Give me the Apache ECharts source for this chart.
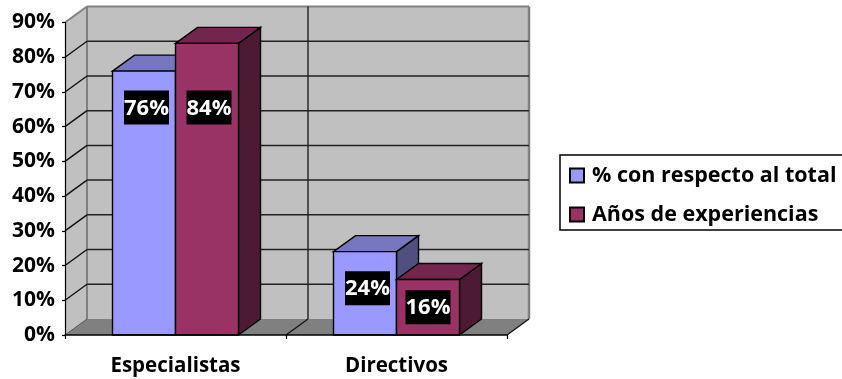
<!DOCTYPE html>
<html><head><meta charset="utf-8">
<style>html,body{margin:0;padding:0;background:#fff;overflow:hidden}#c{width:842px;height:379px}</style>
<script src="https://cdn.jsdelivr.net/npm/echarts@6/dist/echarts.min.js"></script>
</head><body><div id="c"></div>
<script>
const categories = ['Especialistas', 'Directivos'];
const yTicks = [0, 10, 20, 30, 40, 50, 60, 70, 80, 90];
const seriesNames = ['% con respecto al total', 'Años de experiencias'];
const pctTotal = [76, 24];
const yearsExp = [84, 16];

const FONT = '"Open Sans", Lato, sans-serif';
const DX = 22, DY = -16;
const BAR_FRAC = 63 / 221;

function poly(points, fill, stroke, lw) {
  return { type: 'polygon', shape: { points }, style: { fill, stroke: stroke || 'none', lineWidth: lw || 0 } };
}
function line(x1, y1, x2, y2, stroke, lw) {
  return { type: 'line', shape: { x1, y1, x2, y2 }, style: { stroke, lineWidth: lw } };
}

function renderWalls(params, api) {
  const cs = params.coordSys;
  const l = cs.x, r = cs.x + cs.width, t = cs.y, b = cs.y + cs.height;
  const v = api.value(0);
  const y = api.coord([0, v])[1];
  const kids = [];
  if (params.dataIndex === 0) {
    const mid = l + cs.width / 2;
    kids.push(poly([[l, b], [l + DX, b + DY], [l + DX, t + DY], [l, t]], '#c0c0c0'));
    kids.push(poly([[l + DX, b + DY], [r + DX, b + DY], [r + DX, t + DY], [l + DX, t + DY]], '#c0c0c0'));
    kids.push(poly([[l, b], [r, b], [r + DX, b + DY], [l + DX, b + DY]], '#808080'));
    kids.push(line(l, t, l + DX, t + DY, '#808080', 2));
    kids.push(line(l + DX, t + DY, r + DX, t + DY, '#808080', 2));
    kids.push(line(l + DX, b + DY, l + DX, t + DY, '#808080', 2));
    kids.push(line(r + DX, b + DY, r + DX, t + DY, '#808080', 2.5));
    kids.push(line(mid + DX, b + DY, mid + DX, t + DY, '#222', 1.4));
    kids.push(line(mid, b, mid + DX, b + DY, '#111', 1.3));
    kids.push(line(r, b, r + DX, b + DY, '#111', 1.3));
    kids.push(line(l, b, l + DX, b + DY, '#555', 1));
  } else if (v < 90) {
    kids.push(line(l, y, l + DX, y + DY, '#111', 1.4));
    kids.push(line(l + DX, y + DY, r + DX, y + DY, '#222', 1.5));
  }
  return { type: 'group', children: kids };
}

function barRenderer(side, colors, labelAt, labelShift) {
  return function (params, api) {
    const i = api.value(0), v = api.value(1);
    const band = api.size([1, 0])[0];
    const w = band * BAR_FRAC;
    const c = api.coord([i, v]);
    const base = api.coord([i, 0])[1];
    const x0 = side < 0 ? c[0] - w : c[0], x1 = x0 + w, top = c[1];
    const edge = { stroke: '#000', lw: 1.4 };
    const labelY = api.coord([i, labelAt[i]])[1];
    const labelX = (x0 + x1) / 2 + labelShift[i];
    return { type: 'group', children: [
      poly([[x1, base], [x1 + DX, base + DY], [x1 + DX, top + DY], [x1, top]], colors.side, edge.stroke, edge.lw),
      poly([[x0, top], [x0 + DX, top + DY], [x1 + DX, top + DY], [x1, top]], colors.top, edge.stroke, edge.lw),
      poly([[x0, base], [x1, base], [x1, top], [x0, top]], colors.front, edge.stroke, edge.lw),
      { type: 'rect', shape: { x: labelX - 22.5, y: labelY - 17, width: 45, height: 34 }, style: { fill: '#000' } },
      { type: 'text', x: labelX, y: labelY + 1, style: { text: v + '%', fill: '#fff', font: 'bold 22px ' + FONT, align: 'center', verticalAlign: 'middle' } }
    ] };
  };
}

function barSeries(idx, values, colors, labelAt, labelShift) {
  return {
    name: seriesNames[idx], type: 'custom', coordinateSystem: 'cartesian2d',
    clip: false, z: 3 + idx, encode: { x: 0, y: 1 },
    itemStyle: { color: colors.front, borderColor: '#000', borderWidth: 1.5 },
    data: values.map((v, i) => [i, v]),
    renderItem: barRenderer(idx === 0 ? -1 : 1, colors, labelAt, labelShift)
  };
}

const chart = echarts.init(document.getElementById('c'), null, { renderer: 'canvas' });
chart.setOption({
  animation: false,
  backgroundColor: '#fff',
  grid: { left: 65, right: 335, top: 22.5, bottom: 44, containLabel: false },
  xAxis: {
    type: 'category', data: categories, boundaryGap: true, z: 10,
    axisLine: { lineStyle: { color: '#000', width: 1.5 } },
    axisTick: { show: true, alignWithLabel: false, length: 4, lineStyle: { color: '#000', width: 1.2 } },
    axisLabel: { color: '#000', fontFamily: FONT, fontWeight: 'bold', fontSize: 20.5, margin: 21 }
  },
  yAxis: {
    type: 'value', min: 0, max: 90, interval: 10, z: 10,
    axisLine: { show: true, lineStyle: { color: '#000', width: 1.2 } },
    axisTick: { show: true, length: 3, lineStyle: { color: '#000', width: 1.2 } },
    splitLine: { show: false },
    axisLabel: { color: '#000', fontFamily: FONT, fontWeight: 'bold', fontSize: 21, margin: 10, padding: [3, 0, 0, 0], formatter: '{value}%' }
  },
  legend: {
    show: true, orient: 'vertical', left: 560, top: 155,
    data: seriesNames, selectedMode: false, icon: 'rect',
    itemWidth: 14, itemHeight: 14, itemGap: 16, padding: [9, 30, 4, 9],
    backgroundColor: '#fff', borderColor: '#000', borderWidth: 1.5,
    textStyle: { color: '#000', fontFamily: FONT, fontWeight: 'bold', fontSize: 21.5, lineHeight: 22, padding: [1, 0, 0, 3] }
  },
  series: [
    { name: 'walls', type: 'custom', coordinateSystem: 'cartesian2d', clip: false, z: 1,
      encode: { y: 0 }, data: yTicks.map(v => [v]), renderItem: renderWalls },
    barSeries(0, pctTotal, { front: '#9999ff', top: '#7777c0', side: '#505080' }, [65.5, 13.5], [2.5, 2.5]),
    barSeries(1, yearsExp, { front: '#993366', top: '#73264d', side: '#4d1a33' }, [65.5, 8], [2, 0])
  ]
});
</script></body></html>
